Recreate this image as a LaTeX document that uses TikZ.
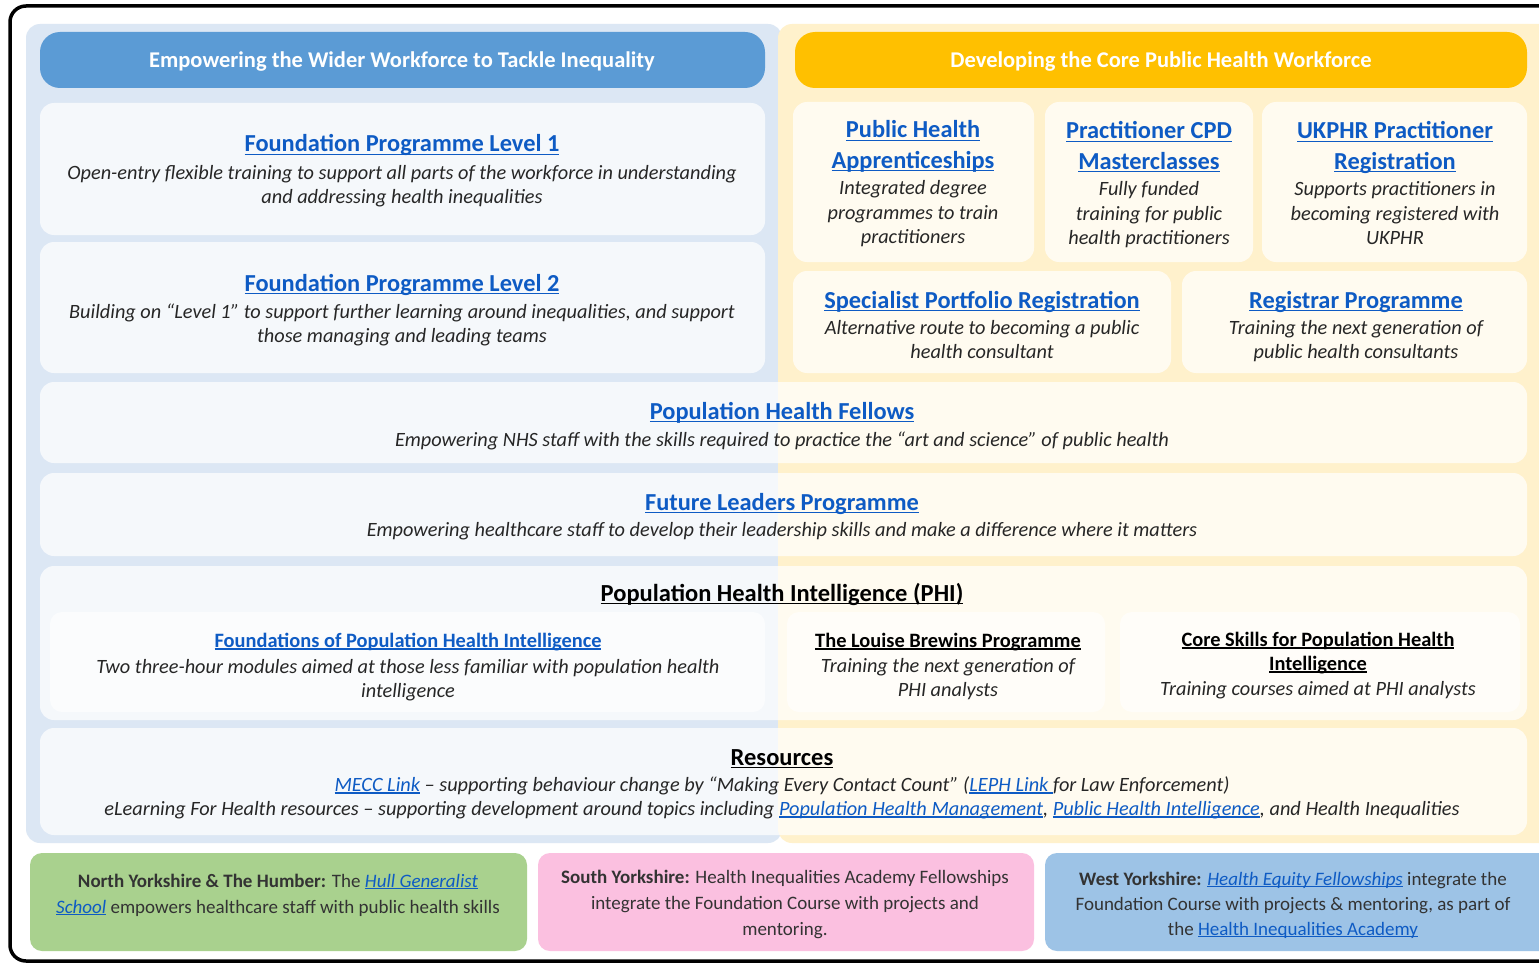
\documentclass[tikz,border=0pt]{standalone}
\usepackage{fontspec}
\setmainfont{Carlito}
\definecolor{lbg}{HTML}{DCE7F4}
\definecolor{ybg}{HTML}{FFF1CC}
\definecolor{hblue}{HTML}{5B9BD5}
\definecolor{horange}{HTML}{FFC000}
\definecolor{lnkc}{HTML}{0E5BC4}
\definecolor{txt}{HTML}{262626}
\definecolor{gboxc}{HTML}{A9D18E}
\definecolor{pboxc}{HTML}{FBC0E0}
\definecolor{bboxc}{HTML}{9DC3E6}
\definecolor{btxt}{HTML}{333333}
\newsavebox\ulbox
\newcommand\ulx[1]{\sbox\ulbox{#1}\rlap{\rule[-0.13em]{\wd\ulbox}{0.065em}}\usebox\ulbox}
\newcommand\lnk[1]{\textcolor{lnkc}{\ulx{#1}}}
\begin{document}
\begin{tikzpicture}[x=1pt,y=-1pt,
  card/.style={fill=white, fill opacity=0.72, rounded corners=14pt},
  subcard/.style={fill=white, fill opacity=0.6, rounded corners=12pt},
  hd/.style={font=\fontsize{22.5}{26}\selectfont\bfseries, text=white, anchor=base, inner sep=0pt},
  ttl/.style={font=\fontsize{24.4}{28}\selectfont\bfseries, text=lnkc, anchor=base, inner sep=0pt},
  btl/.style={font=\fontsize{24.5}{28}\selectfont\bfseries, text=black, anchor=base, inner sep=0pt},
  stl/.style={font=\fontsize{20.4}{24}\selectfont\bfseries, text=lnkc, anchor=base, inner sep=0pt},
  sbl/.style={font=\fontsize{20.4}{24}\selectfont\bfseries, text=black, anchor=base, inner sep=0pt},
  dsc/.style={font=\fontsize{20.3}{24}\selectfont\itshape, text=txt, anchor=base, inner sep=0pt},
  bt/.style={font=\fontsize{19}{22}\selectfont, text=btxt, anchor=base, inner sep=0pt}]
\useasboundingbox (0,0) rectangle (1539,963);
\clip (0,0) rectangle (1539,963);
\fill[white] (0,0) rectangle (1539,963);
% backgrounds
\fill[lbg, rounded corners=14pt] (26,24) rectangle (782,843);
\fill[ybg, rounded corners=14pt] (778,24) rectangle (1560,843);
% headers
\fill[hblue, rounded corners=20pt] (40,32) rectangle (765,88);
\fill[horange, rounded corners=20pt] (795,32) rectangle (1527,88);
\node[hd] (hl) at (402,68) {Empowering the Wider Workforce to Tackle Inequality};
\node[hd] (hr) at (1161,68) {Developing the Core Public Health Workforce};
% cards
\path[card] (40,103) rectangle (765,235);
\path[card] (40,242) rectangle (765,373);
\path[card] (793,102) rectangle (1034,262);
\path[card] (1045,102) rectangle (1253,262);
\path[card] (1262,102) rectangle (1527,262);
\path[card] (793,271) rectangle (1171,373);
\path[card] (1182,271) rectangle (1527,373);
\path[card] (40,382) rectangle (1527,463);
\path[card] (40,473) rectangle (1527,556);
\path[card] (40,566) rectangle (1527,720);
\path[subcard] (50,612) rectangle (765,712);
\path[subcard] (787,612) rectangle (1105,712);
\path[subcard] (1120,612) rectangle (1520,712);
\path[card] (40,728) rectangle (1527,835);
% FP1
\node[ttl] (fp1t) at (402,152) {\ulx{Foundation Programme Level 1}};
\node[dsc] (fp1a) at (402,179) {Open-entry flexible training to support all parts of the workforce in understanding};
\node[dsc] (fp1b) at (402,203) {and addressing health inequalities};
% FP2
\node[ttl] (fp2t) at (402,291) {\ulx{Foundation Programme Level 2}};
\node[dsc] (fp2a) at (402,318) {Building on “Level 1” to support further learning around inequalities, and support};
\node[dsc] (fp2b) at (402,342) {those managing and leading teams};
% PHA
\node[ttl] (phat1) at (913,138) {\ulx{Public Health}};
\node[ttl] (phat2) at (913,168) {\ulx{Apprenticeships}};
\node[dsc] (phaa) at (913,194) {Integrated degree};
\node[dsc] (phab) at (913,219) {programmes to train};
\node[dsc] (phac) at (913,243) {practitioners};
% CPD
\node[ttl] (cpdt1) at (1149,139) {\ulx{Practitioner CPD}};
\node[ttl] (cpdt2) at (1149,169) {\ulx{Masterclasses}};
\node[dsc] (cpda) at (1149,195) {Fully funded};
\node[dsc] (cpdb) at (1149,220) {training for public};
\node[dsc] (cpdc) at (1149,244) {health practitioners};
% UKPHR
\node[ttl] (ukt1) at (1395,139) {\ulx{UKPHR Practitioner}};
\node[ttl] (ukt2) at (1395,169) {\ulx{Registration}};
\node[dsc] (uka) at (1395,195) {Supports practitioners in};
\node[dsc] (ukb) at (1395,220) {becoming registered with};
\node[dsc] (ukc) at (1395,244) {UKPHR};
% Specialist
\node[ttl] (spt) at (982,308) {\ulx{Specialist Portfolio Registration}};
\node[dsc] (spa) at (982,334) {Alternative route to becoming a public};
\node[dsc] (spb) at (982,358) {health consultant};
% Registrar
\node[ttl] (rgt) at (1356,308) {\ulx{Registrar Programme}};
\node[dsc] (rga) at (1356,334) {Training the next generation of};
\node[dsc] (rgb) at (1356,358) {public health consultants};
% PHF
\node[ttl] (pft) at (782,419) {\ulx{Population Health Fellows}};
\node[dsc] (pfa) at (782,446) {Empowering NHS staff with the skills required to practice the “art and science” of public health};
% FLP
\node[ttl] (flt) at (782,510) {\ulx{Future Leaders Programme}};
\node[dsc] (fla) at (782,536) {Empowering healthcare staff to develop their leadership skills and make a difference where it matters};
% PHI
\node[btl] (phit) at (782,601) {\ulx{Population Health Intelligence (PHI)}};
\node[stl] (fpt) at (408,647) {\ulx{Foundations of Population Health Intelligence}};
\node[dsc] (fpa) at (408,673) {Two three-hour modules aimed at those less familiar with population health};
\node[dsc] (fpb) at (408,697) {intelligence};
\node[sbl] (lbt) at (948,647) {\ulx{The Louise Brewins Programme}};
\node[dsc] (lba) at (948,672) {Training the next generation of};
\node[dsc] (lbb) at (948,696) {PHI analysts};
\node[sbl] (cst1) at (1318,646) {\ulx{Core Skills for Population Health}};
\node[sbl] (cst2) at (1318,670) {\ulx{Intelligence}};
\node[dsc] (csa) at (1318,695) {Training courses aimed at PHI analysts};
% Resources
\node[btl] (rst) at (782,765) {\ulx{Resources}};
\node[dsc] (rsa) at (782,791) {\lnk{MECC Link} – supporting behaviour change by “Making Every Contact Count” (\lnk{LEPH Link }for Law Enforcement)};
\node[dsc] (rsb) at (782,815) {eLearning For Health resources – supporting development around topics including \lnk{Population Health Management}, \lnk{Public Health Intelligence}, and Health Inequalities};
% bottom boxes
\fill[gboxc, rounded corners=12pt] (30,853) rectangle (527,951);
\fill[pboxc, rounded corners=12pt] (538,853) rectangle (1034,951);
\fill[bboxc, rounded corners=12pt] (1045,853) rectangle (1570,951);
\node[bt] (ga) at (278,887) {\textbf{North Yorkshire \& The Humber:} The \textit{\lnk{Hull Generalist}}};
\node[bt] (gb) at (278,913) {\textit{\lnk{School}} empowers healthcare staff with public health skills};
\node[bt] (pa) at (785,883) {\textbf{South Yorkshire:} Health Inequalities Academy Fellowships};
\node[bt] (pb) at (785,909) {integrate the Foundation Course with projects and};
\node[bt] (pc) at (785,935) {mentoring.};
\node[bt] (ba) at (1293,885) {\textbf{West Yorkshire:} \textit{\lnk{Health Equity Fellowships}} integrate the};
\node[bt] (bb) at (1293,910) {Foundation Course with projects \& mentoring, as part of};
\node[bt] (bc) at (1293,935) {the \lnk{Health Inequalities Academy}};
% outer frame
\draw[line width=3.5pt, rounded corners=16pt] (10,6) rectangle (1580,961);
\end{tikzpicture}
\end{document}
